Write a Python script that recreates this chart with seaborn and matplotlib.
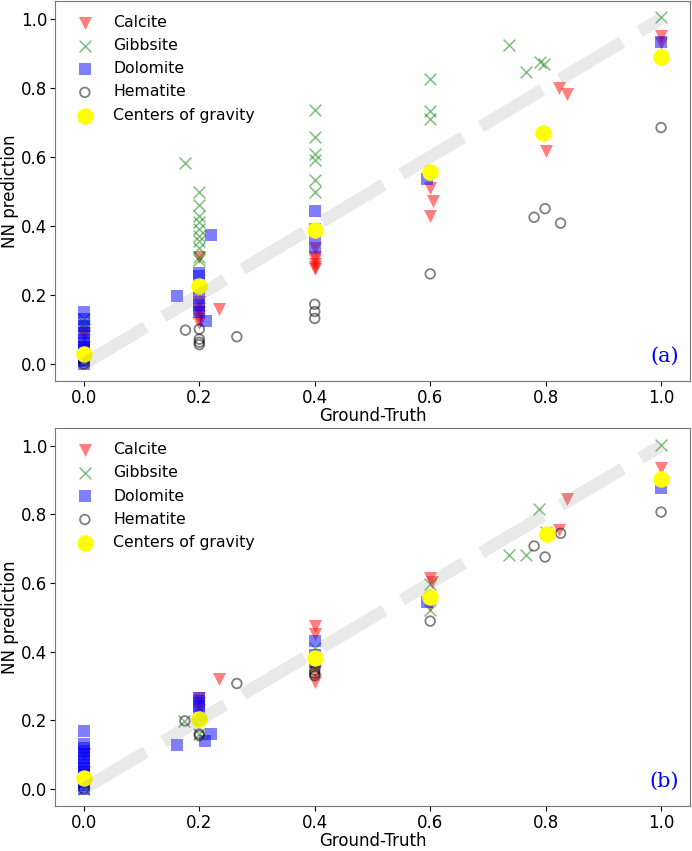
import numpy as np
import matplotlib
matplotlib.use("Agg")
import matplotlib.pyplot as plt
import seaborn as sns

# ---- datos panel (a) ----
calc_a_x = [0, 0, 0, 0, 0.2, 0.2, 0.2, 0.2, 0.2, 0.2, 0.2, 0.234,
            0.4, 0.4, 0.4, 0.4, 0.4, 0.4, 0.6, 0.605, 0.6, 0.8, 0.824, 0.837, 1.0, 1.0]
calc_a_y = [0.09, 0.08, 0.05, 0.02, 0.31, 0.18, 0.16, 0.15, 0.14, 0.13, 0.12, 0.158,
            0.335, 0.31, 0.30, 0.29, 0.28, 0.275, 0.509, 0.471, 0.429, 0.618, 0.80, 0.783, 0.951, 0.93]

gibb_a_x = [0, 0, 0, 0, 0.176, 0.2, 0.2, 0.2, 0.2, 0.2, 0.2, 0.2, 0.2, 0.2, 0.2,
            0.4, 0.4, 0.4, 0.4, 0.4, 0.4, 0.6, 0.6, 0.6, 0.736, 0.766, 0.79, 0.798, 1.0]
gibb_a_y = [0.13, 0.12, 0.11, 0.10, 0.583, 0.497, 0.46, 0.43, 0.41, 0.39, 0.37, 0.355, 0.337, 0.31, 0.30,
            0.735, 0.658, 0.608, 0.59, 0.533, 0.499, 0.826, 0.732, 0.711, 0.925, 0.845, 0.874, 0.869, 1.004]

dolo_a_x = [0, 0, 0, 0, 0, 0, 0, 0, 0, 0, 0, 0, 0.161, 0.2, 0.2, 0.2, 0.2, 0.2, 0.2,
            0.212, 0.22, 0.4, 0.4, 0.4, 0.4, 0.595, 1.0]
dolo_a_y = [0.15, 0.13, 0.11, 0.09, 0.07, 0.06, 0.05, 0.04, 0.03, 0.02, 0.01, 0.0, 0.197,
            0.265, 0.255, 0.22, 0.19, 0.17, 0.15, 0.125, 0.375, 0.442, 0.39, 0.37, 0.336, 0.535, 0.932]

hema_a_x = [0, 0, 0.176, 0.2, 0.2, 0.2, 0.2, 0.265, 0.4, 0.4, 0.4, 0.6, 0.78, 0.799, 0.826, 1.0]
hema_a_y = [0.0, 0.01, 0.098, 0.101, 0.072, 0.063, 0.056, 0.079, 0.173, 0.152, 0.132,
            0.261, 0.425, 0.45, 0.408, 0.685]

cent_a_x = [0, 0.2, 0.4, 0.6, 0.796, 1.0]
cent_a_y = [0.029, 0.226, 0.389, 0.557, 0.67, 0.89]

# ---- datos panel (b) ----
calc_b_x = [0, 0, 0.2, 0.2, 0.2, 0.234, 0.4, 0.4, 0.4, 0.4, 0.6, 0.603, 0.6, 0.824, 0.837, 1.0]
calc_b_y = [0.10, 0.05, 0.265, 0.25, 0.23, 0.321, 0.476, 0.45, 0.34, 0.31, 0.616, 0.602, 0.537,
            0.755, 0.844, 0.935]

gibb_b_x = [0, 0, 0.173, 0.2, 0.4, 0.4, 0.6, 0.6, 0.736, 0.766, 0.789, 0.80, 1.0]
gibb_b_y = [0.02, 0.0, 0.198, 0.16, 0.41, 0.35, 0.596, 0.522, 0.681, 0.681, 0.815, 0.75, 1.002]

dolo_b_x = [0, 0, 0, 0, 0, 0, 0, 0, 0, 0, 0, 0, 0, 0, 0, 0.161, 0.2, 0.2, 0.2, 0.2,
            0.209, 0.221, 0.4, 0.4, 0.4, 0.595, 1.0]
dolo_b_y = [0.168, 0.13, 0.12, 0.11, 0.10, 0.09, 0.08, 0.07, 0.06, 0.05, 0.04, 0.03, 0.02, 0.01, 0.0,
            0.129, 0.265, 0.255, 0.24, 0.22, 0.139, 0.16, 0.43, 0.39, 0.37, 0.544, 0.877]

hema_b_x = [0, 0.175, 0.2, 0.2, 0.265, 0.4, 0.4, 0.4, 0.6, 0.78, 0.799, 0.826, 1.0]
hema_b_y = [0.0, 0.198, 0.16, 0.155, 0.307, 0.345, 0.337, 0.33, 0.489, 0.708, 0.676, 0.745, 0.807]

cent_b_x = [0, 0.2, 0.4, 0.6, 0.802, 1.0]
cent_b_y = [0.032, 0.204, 0.381, 0.558, 0.743, 0.903]

diag = [0, 1]
ticks = [0.0, 0.2, 0.4, 0.6, 0.8, 1.0]

paneles = [
    (calc_a_x, calc_a_y, gibb_a_x, gibb_a_y, dolo_a_x, dolo_a_y, hema_a_x, hema_a_y, cent_a_x, cent_a_y, "(a)"),
    (calc_b_x, calc_b_y, gibb_b_x, gibb_b_y, dolo_b_x, dolo_b_y, hema_b_x, hema_b_y, cent_b_x, cent_b_y, "(b)"),
]

fig = plt.figure(figsize=(6.92, 8.51), dpi=100)
ax_a = fig.add_axes([0.0795, 0.552, 0.9175, 0.447])
ax_b = fig.add_axes([0.0795, 0.053, 0.9175, 0.444])

for ax, (cx, cy, gx, gy, dx, dy, hx, hy, kx, ky, tag) in zip([ax_a, ax_b], paneles):
    sns.scatterplot(x=cx, y=cy, marker="v", color="red", alpha=0.5, s=88, linewidth=0,
                    label="Calcite", ax=ax)
    sns.scatterplot(x=gx, y=gy, marker="x", color="green", alpha=0.5, s=72, linewidth=1.1,
                    label="Gibbsite", ax=ax)
    sns.scatterplot(x=dx, y=dy, marker="s", color="blue", alpha=0.5, s=74, linewidth=0,
                    label="Dolomite", ax=ax)
    sns.scatterplot(x=hx, y=hy, marker="o", facecolor="none", edgecolor="black", alpha=0.5,
                    s=48, linewidth=1.3, label="Hematite", ax=ax)
    sns.scatterplot(x=kx, y=ky, marker="o", color="yellow", s=140, linewidth=0,
                    label="Centers of gravity", ax=ax)
    # diagonal ideal
    ax.plot(diag, diag, color="gray", alpha=0.17, lw=9, linestyle=(0, (5.75, 1.65)),
            solid_capstyle="butt", dash_capstyle="butt", zorder=5)

    ax.set_xlim(-0.05, 1.05)
    ax.set_ylim(-0.05, 1.052)
    ax.set_xticks(ticks)
    ax.set_yticks(ticks)
    ax.tick_params(labelsize=12, pad=2)
    ax.set_xlabel("Ground-Truth", fontsize=12, labelpad=0)
    ax.set_ylabel("NN prediction", fontsize=12, labelpad=1.5)
    for sp in ax.spines.values():
        sp.set_color("#777777")
    ax.legend(loc="upper left", frameon=False, fontsize=11.3, labelspacing=0.52,
              handletextpad=0.8)
    ax.text(0.983, 0.04, tag, transform=ax.transAxes, ha="right", va="bottom",
            color="blue", family="DejaVu Serif", fontsize=15)

fig.savefig("out.png", dpi=100)
